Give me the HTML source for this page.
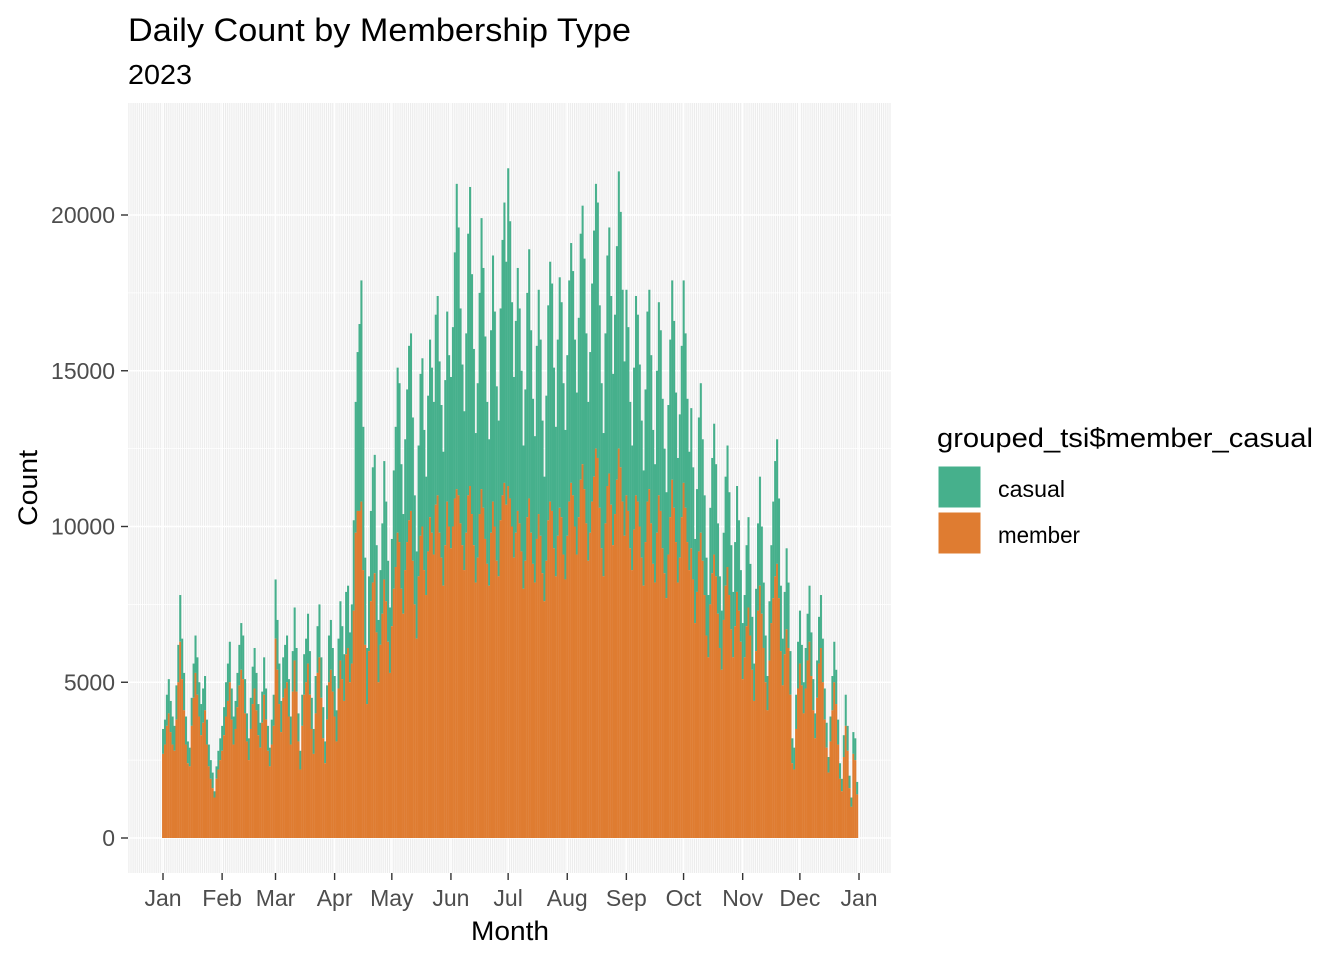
<!DOCTYPE html>
<html><head><meta charset="utf-8"><style>
html,body{margin:0;padding:0;background:#fff;}
svg{display:block;font-family:"Liberation Sans",Arial,sans-serif;}
</style></head><body>
<svg id="chart" width="1344" height="960" viewBox="0 0 1344 960">
<defs>
<pattern id="minor" width="1.907" height="1000" patternUnits="userSpaceOnUse" x="163">
<rect width="1.907" height="1000" fill="#EBEBEB"/><rect width="0.9" height="1000" fill="#FFFFFF"/>
</pattern>
</defs>
<text x="128" y="41" font-size="32" textLength="503" lengthAdjust="spacingAndGlyphs" fill="#000">Daily Count by Membership Type</text>
<text x="128" y="84" font-size="28" textLength="64" lengthAdjust="spacingAndGlyphs" fill="#000">2023</text>
<rect x="128" y="103" width="763" height="770" fill="url(#minor)"/>
<g id="grid"></g>
<g id="bars"></g>
<g id="axes"></g>
<text x="510" y="940" font-size="27" textLength="78" lengthAdjust="spacingAndGlyphs" text-anchor="middle" fill="#000">Month</text>
<text transform="translate(37,488) rotate(-90)" font-size="27" textLength="76" lengthAdjust="spacingAndGlyphs" text-anchor="middle" fill="#000">Count</text>
<g>
<text x="937" y="447" font-size="27" textLength="376" lengthAdjust="spacingAndGlyphs" fill="#000">grouped_tsi$member_casual</text>
<g>
<rect x="938" y="466" width="43" height="42" fill="#46B08C" stroke="#fff" stroke-width="1"/>
<text x="998" y="497" font-size="23" textLength="67" lengthAdjust="spacingAndGlyphs" fill="#000">casual</text></g>
<g>
<rect x="938" y="512" width="43" height="42" fill="#DF7C31" stroke="#fff" stroke-width="1"/>
<text x="998" y="543" font-size="23" textLength="82" lengthAdjust="spacingAndGlyphs" fill="#000">member</text></g>
</g>
</svg>
<script>
// Daily ride counts in thousands. totalK = casual + member stack top.
const totalK = [
3.5,3.8,4.6,5.1,4.4,3.9,3.6,4.9,6.2,7.8,6.4,5.3,3.9,3.1,2.9,4.5,5.6,6.5,5.8,5.0,4.3,4.8,5.2,3.8,3.0,2.5,2.1,1.5,2.3,2.8,3.2,
3.6,4.2,5.0,5.6,6.3,4.8,3.9,4.4,5.3,6.2,6.9,6.5,5.1,4.0,3.2,4.5,5.5,6.1,5.3,4.3,3.7,4.7,5.8,4.8,3.6,2.9,3.8,4.6,
8.3,7.0,5.6,4.4,5.8,6.2,6.5,5.1,3.9,6.0,7.4,6.1,4.0,2.8,4.6,5.9,6.4,7.2,6.0,4.5,3.5,5.2,6.8,7.5,5.8,4.2,3.1,4.9,6.5,7.0,6.1,
5.2,4.1,6.4,7.6,6.8,5.9,7.9,8.1,6.6,7.5,10.2,14.0,15.6,16.5,17.9,13.2,9.0,6.1,8.4,10.5,11.9,12.3,9.4,7.0,8.6,10.1,12.1,10.8,8.9,7.4,
9.6,11.8,13.2,15.1,14.6,12.0,10.4,12.8,14.4,15.8,16.2,13.5,11.0,9.2,12.6,14.9,15.4,13.1,11.6,14.2,16.0,15.1,14.0,16.8,17.4,15.3,13.9,12.4,14.7,16.9,15.5,
14.8,16.4,18.8,21.0,19.6,17.0,15.2,13.7,16.2,19.4,20.9,18.1,15.7,13.0,14.6,17.5,19.9,18.3,16.1,14.0,12.8,16.3,18.7,16.9,14.5,13.4,17.0,19.2,20.4,18.5,
21.5,19.8,17.2,14.8,16.6,18.3,17.0,15.0,12.6,14.4,17.5,18.9,16.3,14.1,12.9,15.8,17.6,16.0,13.4,11.6,14.2,17.1,18.5,17.8,15.1,13.2,16.0,18.0,17.2,14.6,13.1,
15.5,17.9,19.1,18.2,16.0,14.3,16.7,19.4,20.3,18.6,16.2,14.0,15.6,17.8,19.5,21.0,20.4,17.1,14.6,13.0,16.2,18.7,19.6,17.4,14.9,16.8,19.0,21.4,20.1,17.6,15.3,
17.6,16.4,14.0,12.6,15.1,17.4,16.8,15.2,13.4,11.8,14.4,16.9,17.6,15.5,13.1,12.0,15.0,17.2,16.3,14.1,12.5,11.1,13.9,16.0,17.9,16.6,14.3,12.2,13.6,15.8,
17.9,16.2,14.1,12.4,13.8,11.9,9.6,11.2,13.5,14.6,12.8,11.0,9.0,7.8,10.6,12.2,13.3,12.0,10.1,8.4,7.3,9.8,11.6,12.6,11.1,9.4,7.9,9.5,11.3,10.2,8.6,
6.9,7.8,9.4,10.3,8.8,7.1,5.6,8.0,10.1,11.6,10.0,8.2,6.5,5.2,7.6,9.4,10.8,12.1,12.8,10.9,8.1,6.4,7.9,9.3,8.2,6.0,3.2,2.9,4.6,6.3,
7.3,6.2,5.0,6.1,7.2,8.1,6.6,5.1,4.0,5.7,7.1,7.8,6.4,4.8,3.7,2.6,3.9,5.2,6.3,5.4,3.8,2.4,1.9,3.3,4.6,3.6,2.0,1.3,3.4,3.2,1.8];
const memberK = [
2.7,3.0,3.6,4.0,3.4,3.0,2.8,3.8,5.0,6.3,5.1,4.1,3.0,2.4,2.3,3.6,4.5,5.3,4.6,3.9,3.3,3.7,4.1,3.0,2.3,1.9,1.6,1.3,1.9,2.2,2.5,
2.8,3.3,3.9,4.4,5.0,3.8,3.0,3.5,4.2,4.9,5.4,5.1,4.0,3.1,2.5,3.5,4.3,4.8,4.1,3.3,2.9,3.7,4.6,3.8,2.8,2.3,3.0,3.6,
6.4,5.4,4.3,3.4,4.5,4.8,5.0,3.9,3.0,4.7,5.7,4.7,3.1,2.2,3.6,4.6,5.0,5.6,4.6,3.5,2.7,4.0,5.3,5.8,4.5,3.2,2.4,3.8,5.0,5.4,4.7,
3.9,3.1,4.8,5.7,5.1,4.4,5.9,6.1,5.0,5.6,7.3,9.8,10.5,10.5,10.8,8.6,6.2,4.3,6.0,7.6,8.2,8.5,6.6,5.0,6.2,7.2,8.3,7.6,6.3,5.3,
6.8,8.0,8.7,9.8,9.5,8.0,7.2,8.6,9.5,10.2,10.5,8.9,7.5,6.4,8.4,9.7,10.0,8.6,7.8,9.2,10.3,9.8,9.1,10.7,11.0,9.8,9.0,8.1,9.4,10.8,10.0,
9.3,10.0,10.9,11.2,11.0,10.1,9.4,8.6,9.8,11.0,11.3,10.4,9.4,8.2,9.0,10.4,11.2,10.6,9.6,8.8,8.1,9.8,10.8,10.0,8.9,8.4,10.2,11.0,11.4,10.7,
11.3,10.9,10.0,9.0,9.8,10.5,10.1,9.2,8.0,8.9,10.3,10.9,9.8,8.8,8.2,9.6,10.4,9.7,8.5,7.6,8.9,10.2,10.8,10.5,9.3,8.4,9.7,10.6,10.3,9.1,8.3,
9.7,10.8,11.4,11.0,10.0,9.1,10.3,11.5,12.0,11.2,10.1,8.9,9.8,10.8,11.6,12.5,12.2,10.6,9.3,8.4,10.1,11.3,11.7,10.7,9.4,10.4,11.5,12.5,11.9,10.8,9.7,
11.0,10.5,9.3,8.6,9.9,11.0,10.8,10.0,9.0,8.1,9.5,10.8,11.2,10.1,8.8,8.2,9.8,11.0,10.5,9.3,8.5,7.7,9.1,10.3,11.5,10.6,9.5,8.2,9.0,10.3,
11.4,10.6,9.5,8.6,9.3,8.3,6.9,7.9,9.2,9.8,8.9,7.8,6.5,5.8,7.5,8.5,9.1,8.4,7.2,6.1,5.4,7.0,8.1,8.7,7.8,6.7,5.8,6.8,7.9,7.3,6.3,
5.1,5.8,6.8,7.4,6.5,5.4,4.4,6.0,7.3,8.1,7.2,6.1,5.0,4.1,5.7,6.9,7.7,8.4,8.8,7.7,6.0,4.9,5.9,6.7,6.1,4.6,2.4,2.2,3.5,4.8,
5.6,4.9,4.0,4.8,5.7,6.3,5.2,4.1,3.2,4.5,5.6,6.1,5.0,3.8,2.9,2.1,3.1,4.1,5.0,4.3,3.0,1.9,1.5,2.6,3.6,2.8,1.6,1.0,2.7,2.5,1.4];
const monthLabels = ["Jan","Feb","Mar","Apr","May","Jun","Jul","Aug","Sep","Oct","Nov","Dec","Jan"];
const monthStartDays = [0,31,59,90,120,151,181,212,243,273,304,334,365];
const yTicks = [0,5000,10000,15000,20000];

const NS = "http://www.w3.org/2000/svg";
const x0 = 163, dayW = (859-163)/365;
const xScale = d => x0 + d*dayW;
const yScale = v => 838 - v*(838-215)/20000;
function mk(tag, attrs, parent){const e=document.createElementNS(NS,tag);for(const k in attrs)e.setAttribute(k,attrs[k]);parent.appendChild(e);return e;}
const grid=document.getElementById('grid'), bars=document.getElementById('bars'), axes=document.getElementById('axes');
yTicks.forEach(t=>{
  const y=yScale(t);
  const gl=mk('line',{x1:128,x2:891,y1:y,y2:y,stroke:'#fff','stroke-width':1.4},grid);
  
  
  const tk=mk('line',{x1:121,x2:128,y1:y,y2:y,stroke:'#333','stroke-width':1.4},axes);
  
  
  const lb=mk('text',{x:115,y:y+8,'font-size':23,'text-anchor':'end',fill:'#4D4D4D'},axes);
  lb.textContent=String(t);
  
  
});
for(let i=0;i<yTicks.length-1;i++){
  const y=yScale((yTicks[i]+yTicks[i+1])/2);
  const gl=mk('line',{x1:128,x2:891,y1:y,y2:y,stroke:'#fff','stroke-width':0.7},grid);
  
  
}
monthStartDays.forEach((d,i)=>{
  const x=xScale(d);
  const gl=mk('line',{x1:x,x2:x,y1:103,y2:873,stroke:'#fff','stroke-width':1.4},grid);
  
  
  const tk=mk('line',{x1:x,x2:x,y1:873,y2:880,stroke:'#333','stroke-width':1.4},axes);
  
  
  const lb=mk('text',{x:x,y:906,'font-size':23,'text-anchor':'middle',fill:'#4D4D4D'},axes);
  lb.textContent=monthLabels[i];
  
  
});
const n=Math.min(totalK.length,memberK.length);
for(let i=0;i<n;i++){
  const xl=xScale(i)-dayW/2;
  const yt=yScale(totalK[i]*1000), ym=yScale(memberK[i]*1000), yb=yScale(0);
  const c=mk('rect',{x:xl,y:yt,width:dayW+0.15,height:Math.max(0,ym-yt),fill:'#46B08C'},bars);
  
  
  const m=mk('rect',{x:xl,y:ym,width:dayW+0.15,height:Math.max(0,yb-ym),fill:'#DF7C31'},bars);
  
  
}
</script>
</body></html>
